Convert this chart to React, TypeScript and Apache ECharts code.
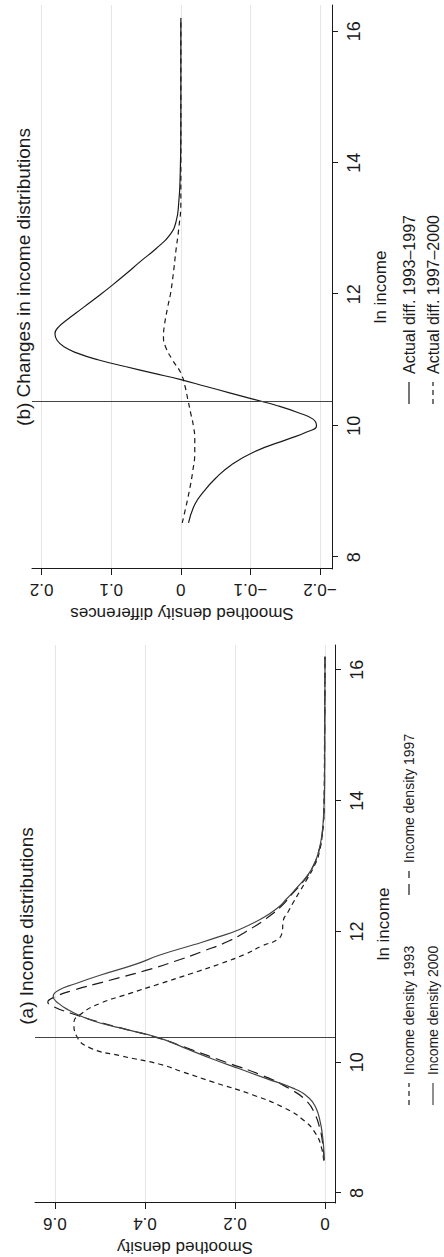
import React, { useEffect, useRef } from "react";
import * as echarts from "echarts";

// ---------- data ----------
const lnIncomeTicks = [8, 10, 12, 14, 16];
const densityTicks = [0, 0.2, 0.4, 0.6];
const diffTicks = [-0.2, -0.1, 0, 0.1, 0.2];
const povertyLine = 10.37;

// [ln income, smoothed density]
const density1993: [number, number][] = [
  [8.5, 0.003], [8.7, 0.008], [8.9, 0.02], [9.1, 0.045], [9.3, 0.09], [9.5, 0.16],
  [9.7, 0.25], [9.85, 0.315], [9.97, 0.367], [10.1, 0.455], [10.22, 0.522], [10.4, 0.552],
  [10.6, 0.558], [10.75, 0.54], [10.9, 0.5], [11.05, 0.435], [11.2, 0.367], [11.35, 0.3],
  [11.5, 0.235], [11.65, 0.178], [11.78, 0.14], [11.88, 0.105], [12.0, 0.095], [12.16, 0.093],
  [12.3, 0.082], [12.45, 0.07], [12.6, 0.057], [12.8, 0.04], [13.0, 0.024], [13.2, 0.013],
  [13.57, 0.005], [14.0, 0.002], [15.0, 0.001], [16.2, 0.0],
];
const density1997: [number, number][] = [
  [8.5, 0.002], [8.8, 0.006], [9.0, 0.012], [9.2, 0.022], [9.4, 0.04], [9.6, 0.08],
  [9.8, 0.14], [10.0, 0.22], [10.2, 0.3], [10.37, 0.37], [10.5, 0.44], [10.65, 0.52],
  [10.75, 0.565], [10.85, 0.603], [10.92, 0.616], [11.0, 0.6], [11.1, 0.56], [11.25, 0.48],
  [11.4, 0.4], [11.54, 0.335], [11.7, 0.27], [11.85, 0.215], [12.0, 0.175], [12.2, 0.13],
  [12.4, 0.095], [12.56, 0.075], [12.75, 0.05], [12.95, 0.03], [13.2, 0.015], [13.5, 0.006],
  [13.9, 0.002], [14.5, 0.001], [16.2, 0.0],
];
const density2000: [number, number][] = [
  [8.5, 0.002], [8.7, 0.003], [8.9, 0.006], [9.1, 0.011], [9.3, 0.02], [9.45, 0.035],
  [9.6, 0.07], [9.75, 0.13], [9.9, 0.19], [10.05, 0.25], [10.2, 0.305], [10.37, 0.367],
  [10.5, 0.44], [10.6, 0.5], [10.7, 0.54], [10.8, 0.57], [10.9, 0.592], [11.0, 0.604],
  [11.1, 0.592], [11.2, 0.555], [11.33, 0.5], [11.5, 0.42], [11.64, 0.367], [11.8, 0.29],
  [11.92, 0.235], [12.03, 0.19], [12.2, 0.14], [12.35, 0.107], [12.5, 0.085], [12.65, 0.065],
  [12.84, 0.041], [13.0, 0.026], [13.2, 0.015], [13.47, 0.007], [13.8, 0.003], [14.2, 0.001],
  [16.2, 0.0],
];
// [ln income, density difference]
const diff9397: [number, number][] = [
  [8.52, -0.011], [8.8, -0.02], [9.0, -0.033], [9.2, -0.05], [9.4, -0.072], [9.6, -0.105],
  [9.8, -0.155], [9.9, -0.18], [10.0, -0.195], [10.1, -0.19], [10.2, -0.168], [10.3, -0.14],
  [10.4, -0.105], [10.5, -0.07], [10.6, -0.035], [10.7, 0.0], [10.8, 0.04], [10.9, 0.08],
  [11.0, 0.118], [11.1, 0.148], [11.2, 0.168], [11.3, 0.178], [11.4, 0.181], [11.5, 0.176],
  [11.6, 0.165], [11.8, 0.14], [12.0, 0.115], [12.1, 0.103], [12.3, 0.08], [12.5, 0.058],
  [12.7, 0.035], [12.9, 0.016], [13.1, 0.007], [13.4, 0.003], [13.8, 0.001], [14.5, 0.0],
  [16.2, 0.0],
];
const diff9700: [number, number][] = [
  [8.52, -0.002], [8.8, -0.008], [9.0, -0.012], [9.3, -0.017], [9.6, -0.02], [9.8, -0.02],
  [10.0, -0.018], [10.2, -0.014], [10.4, -0.01], [10.6, -0.006], [10.8, 0.0], [11.0, 0.012],
  [11.2, 0.022], [11.35, 0.025], [11.5, 0.024], [11.8, 0.019], [12.0, 0.015], [12.3, 0.011],
  [12.67, 0.007], [13.0, 0.003], [13.4, 0.0], [14.0, 0.0], [15.0, 0.0], [16.2, 0.0],
];

// ---------- styling ----------
const FONT = "'Liberation Sans', Arial, Helvetica, sans-serif";
const INK = "#1a1a1a";
const GRID_COLOR = "#e6e6e6";

const fmt = (v: number) => {
  const r = Math.round(v * 10) / 10;
  if (r === 0) return "0";
  return r < 0 ? "\u2212" + Math.abs(r).toFixed(1) : r.toFixed(1);
};

function xAxisFor(grid: number, min: number, max: number) {
  return {
    gridIndex: grid,
    type: "value",
    min,
    max,
    name: "ln income",
    nameLocation: "middle",
    nameGap: 40,
    nameTextStyle: { fontFamily: FONT, fontSize: 17, color: INK },
    axisLine: { show: true, onZero: false, lineStyle: { color: INK, width: 1 } },
    axisTick: { show: true, customValues: lnIncomeTicks, length: 6, lineStyle: { color: INK } },
    axisLabel: { customValues: lnIncomeTicks, fontFamily: FONT, fontSize: 18, color: INK, margin: 13 },
    splitLine: { show: false },
  };
}

function yAxisFor(grid: number, min: number, max: number, ticks: number[], name: string) {
  return {
    gridIndex: grid,
    type: "value",
    min,
    max,
    name,
    nameLocation: "middle",
    nameRotate: 90,
    nameGap: 36,
    nameTextStyle: { fontFamily: FONT, fontSize: 17, color: INK },
    axisLine: { show: true, onZero: false, lineStyle: { color: INK, width: 1 } },
    axisTick: { show: true, customValues: ticks, length: 6, lineStyle: { color: INK } },
    axisLabel: { customValues: ticks, rotate: 90, fontFamily: FONT, fontSize: 17, color: INK, margin: 12, formatter: fmt },
    splitLine: { show: true, lineStyle: { color: GRID_COLOR, width: 1 } },
  };
}

function lineSeries(name: string, data: [number, number][], grid: number, color: string, type: any) {
  return {
    name,
    type: "line",
    xAxisIndex: grid,
    yAxisIndex: grid,
    data,
    showSymbol: false,
    smooth: 0.5,
    lineStyle: { color, width: 1.2, type },
    z: 3,
  };
}

function legendItem(x1: number, x2: number, y: number, dash: number[] | null, color: string, text: string, size: number) {
  return [
    {
      type: "line",
      shape: { x1, y1: y, x2, y2: y },
      style: { stroke: color, lineWidth: 1.2, lineDash: dash || undefined },
    },
    {
      type: "text",
      x: x2 + 8,
      y,
      style: { text, fontFamily: FONT, fontSize: size, fill: INK, verticalAlign: "middle", align: "left" },
    },
  ];
}

const SHORT = [5, 4];
const LONG = [11, 6];
const markLine = {
  silent: true,
  symbol: "none",
  label: { show: false },
  lineStyle: { color: "#444", type: "solid", width: 1 },
  data: [{ xAxis: povertyLine }],
};

export default function App() {
  const ref = useRef<HTMLDivElement>(null);
  useEffect(() => {
    if (!ref.current) return;
    const chart = echarts.init(ref.current, undefined, { renderer: "svg" });
    const option: any = {
      animation: false,
      backgroundColor: "#ffffff",
      grid: [
        { left: 50, top: 35, width: 562, height: 300 },
        { left: 688, top: 32, width: 564, height: 300 },
      ],
      xAxis: [xAxisFor(0, 7.848, 16.38), xAxisFor(1, 7.82, 16.4)],
      yAxis: [
        yAxisFor(0, -0.0222, 0.6444, densityTicks, "Smoothed density"),
        yAxisFor(1, -0.2173, 0.214, diffTicks, "Smoothed density differences"),
      ],
      graphic: [
        {
          type: "text",
          x: 331,
          y: 26,
          style: { text: "(a) Income distributions", fontFamily: FONT, fontSize: 19, fill: INK, align: "center", verticalAlign: "middle" },
        },
        {
          type: "text",
          x: 980,
          y: 23,
          style: { text: "(b) Changes in income distributions", fontFamily: FONT, fontSize: 19, fill: INK, align: "center", verticalAlign: "middle" },
        },
        ...legendItem(152, 174, 409, SHORT, INK, "Income density 1993", 14),
        ...legendItem(362, 386, 409, LONG, INK, "Income density 1997", 14),
        ...legendItem(152, 174, 433, null, "#444", "Income density 2000", 14),
        ...legendItem(853, 875, 409, null, INK, "Actual diff. 1993\u20131997", 16),
        ...legendItem(853, 875, 433, SHORT, INK, "Actual diff. 1997\u20132000", 16),
      ],
      series: [
        { ...lineSeries("Income density 1993", density1993, 0, INK, SHORT), markLine },
        lineSeries("Income density 1997", density1997, 0, INK, LONG),
        lineSeries("Income density 2000", density2000, 0, "#444", "solid"),
        { ...lineSeries("Actual diff. 1993\u20131997", diff9397, 1, INK, "solid"), markLine },
        lineSeries("Actual diff. 1997\u20132000", diff9700, 1, INK, SHORT),
      ],
    };
    chart.setOption(option);
    return () => chart.dispose();
  }, []);

  return (
    <div style={{ position: "absolute", left: 0, top: 0, width: 444, height: 1257, overflow: "hidden", background: "#fff" }}>
      <div
        ref={ref}
        style={{
          position: "absolute",
          left: 0,
          top: 0,
          width: 1257,
          height: 444,
          transformOrigin: "0 0",
          transform: "translateY(1257px) rotate(-90deg)",
        }}
      />
    </div>
  );
}
